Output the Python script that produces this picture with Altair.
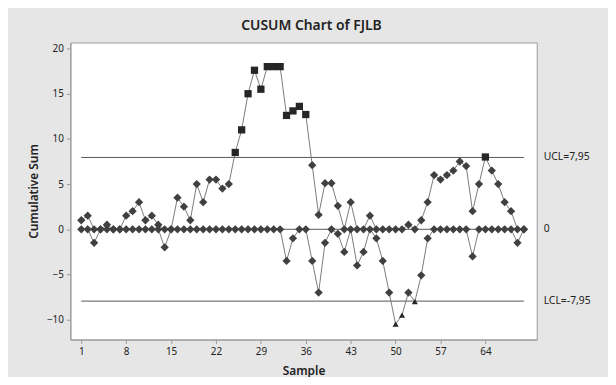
import altair as alt
import pandas as pd

# ---- data ----
samples = list(range(1, 71))
upper_cusum = [1.0, 1.5, 0, 0, 0.5, 0, 0, 1.5, 2.0, 3.0,
               1.0, 1.5, 0.5, 0, 0, 3.5, 2.5, 1.0, 5.0, 3.0,
               5.5, 5.5, 4.5, 5.0, 8.5, 11.0, 15.0, 17.6, 15.5, 18.0,
               18.0, 18.0, 12.6, 13.1, 13.6, 12.7, 7.1, 1.6, 5.1, 5.1,
               2.6, 0, 3.0, 0, 0, 1.5, 0, 0, 0, 0,
               0, 0.5, 0, 1.0, 3.0, 6.0, 5.5, 6.0, 6.5, 7.5,
               7.0, 2.0, 5.0, 8.0, 6.5, 5.0, 3.0, 2.0, 0, 0]
lower_cusum = [0, 0, -1.5, 0, 0, 0, 0, 0, 0, 0,
               0, 0, 0, -2.0, 0, 0, 0, 0, 0, 0,
               0, 0, 0, 0, 0, 0, 0, 0, 0, 0,
               0, 0, -3.5, -1.0, 0, 0, -3.5, -7.0, -1.5, 0,
               -0.5, -2.5, 0, -4.0, -2.5, 0, -1.0, -3.5, -7.0, -10.5,
               -9.5, -7.0, -8.0, -5.1, -1.0, 0, 0, 0, 0, 0,
               0, -3.0, 0, 0, 0, 0, 0, 0, -1.5, 0]
limit_values = [7.95, 0.0, -7.95]
limit_labels = ["UCL=7,95", "0", "LCL=-7,95"]
x_ticks = [1, 8, 15, 22, 29, 36, 43, 50, 57, 64]
y_ticks = [-10, -5, 0, 5, 10, 15, 20]
title_text = "CUSUM Chart of FJLB"

UCL, LCL = limit_values[0], limit_values[2]

rows = []
for s, u, l in zip(samples, upper_cusum, lower_cusum):
    rows.append({"sample": s, "value": u, "series": "upper",
                 "status": "up" if u > UCL else "in"})
    rows.append({"sample": s, "value": l, "series": "lower",
                 "status": "down" if l < LCL else "in"})
df = pd.DataFrame(rows)

limits = pd.DataFrame({"value": limit_values, "label": limit_labels,
                       "x1": [samples[0]] * 3, "x2": [samples[-1]] * 3})

FONT = "Segoe UI, Noto Sans, sans-serif"
x_scale = alt.Scale(domain=[-0.7, 72.0], nice=False, zero=False)
y_scale = alt.Scale(domain=[-12.2, 20.67], nice=False, zero=False)
x_axis = alt.Axis(values=x_ticks, title="Sample", grid=False, tickSize=4,
                  labelPadding=3, titlePadding=9, labelFontSize=10,
                  titleFontSize=12, titleFontWeight=600)
y_axis = alt.Axis(values=y_ticks, title="Cumulative Sum", grid=False, tickSize=4,
                  labelPadding=3, titlePadding=6, labelFontSize=10,
                  titleFontSize=12, titleFontWeight=600)

rules = alt.Chart(limits).mark_rule(color="#555555", strokeWidth=1).encode(
    x=alt.X("x1:Q", scale=x_scale, axis=x_axis),
    x2="x2:Q",
    y=alt.Y("value:Q", scale=y_scale, axis=y_axis),
)

labels = alt.Chart(limits).mark_text(align="left", baseline="middle", fontSize=10.5,
                                     font=FONT, color="#222222").encode(
    x=alt.value(478),
    y=alt.Y("value:Q", scale=y_scale, axis=y_axis),
    text="label:N",
)

lines = alt.Chart(df).mark_line(color="#7a7a7a", strokeWidth=1).encode(
    x=alt.X("sample:Q", scale=x_scale, axis=x_axis),
    y=alt.Y("value:Q", scale=y_scale, axis=y_axis),
    detail="series:N",
    order="sample:Q",
)

points = alt.Chart(df).mark_point(filled=True, opacity=1, strokeWidth=0).encode(
    x=alt.X("sample:Q", scale=x_scale, axis=x_axis),
    y=alt.Y("value:Q", scale=y_scale, axis=y_axis),
    shape=alt.Shape("status:N", scale=alt.Scale(domain=["in", "up", "down"],
                    range=["diamond", "square", "triangle-up"]), legend=None),
    color=alt.Color("status:N", scale=alt.Scale(domain=["in", "up", "down"],
                    range=["#404040", "#262626", "#262626"]), legend=None),
    size=alt.Size("status:N", scale=alt.Scale(domain=["in", "up", "down"],
                  range=[70, 38, 58]), legend=None),
)

chart = alt.layer(rules, lines, points, labels).properties(
    width=471, height=300,
    title=alt.TitleParams(title_text, fontSize=14, fontWeight=600, font=FONT,
                          anchor="middle", offset=10, dx=8, color="#222222"),
    padding={"left": 63, "top": 33, "right": 72, "bottom": 36},
    autosize=alt.AutoSizeParams(type="none"),
    background="#e6e6e6",
).configure_view(
    stroke="#9a9a9a", fill="white", strokeWidth=1
).configure_axis(
    domainColor="#9a9a9a", tickColor="#9a9a9a", labelColor="#222222",
    titleColor="#222222", labelFont=FONT, titleFont=FONT
)

chart.save("out.html", embed_options={"renderer": "svg", "actions": False})
